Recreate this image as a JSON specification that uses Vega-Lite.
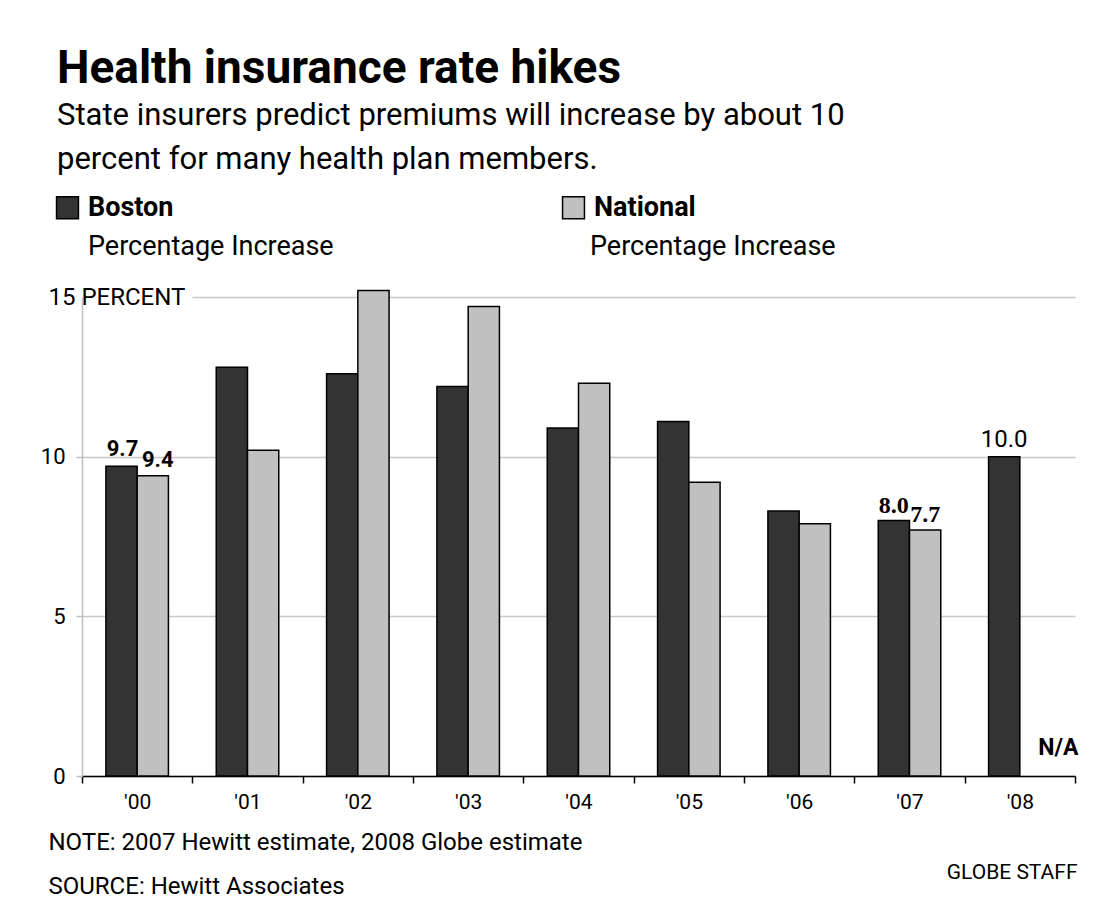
{
  "$schema": "https://vega.github.io/schema/vega-lite/v6.json",
  "width": 993,
  "height": 479,
  "autosize": {"type": "none"},
  "padding": {"left": 82, "top": 297, "right": 32, "bottom": 144},
  "background": "white",
  "title": {
    "text": "Health insurance rate hikes",
    "subtitle": ["State insurers predict premiums will increase by about 10", "percent for many health plan members."],
    "anchor": "start",
    "frame": "group",
    "dx": -25,
    "offset": 18,
    "fontSize": 46,
    "fontWeight": "bold",
    "color": "black",
    "subtitleFontSize": 31,
    "subtitleColor": "black",
    "subtitleLineHeight": 44,
    "subtitlePadding": 8,
    "font": "Roboto, Liberation Sans, sans-serif",
    "subtitleFont": "Roboto, Liberation Sans, sans-serif"
  },
  "data": {
    "values": [
      {"year": "'00", "series": "Boston", "value": 9.7},
      {"year": "'00", "series": "National", "value": 9.4},
      {"year": "'01", "series": "Boston", "value": 12.8},
      {"year": "'01", "series": "National", "value": 10.2},
      {"year": "'02", "series": "Boston", "value": 12.6},
      {"year": "'02", "series": "National", "value": 15.2},
      {"year": "'03", "series": "Boston", "value": 12.2},
      {"year": "'03", "series": "National", "value": 14.7},
      {"year": "'04", "series": "Boston", "value": 10.9},
      {"year": "'04", "series": "National", "value": 12.3},
      {"year": "'05", "series": "Boston", "value": 11.1},
      {"year": "'05", "series": "National", "value": 9.2},
      {"year": "'06", "series": "Boston", "value": 8.3},
      {"year": "'06", "series": "National", "value": 7.9},
      {"year": "'07", "series": "Boston", "value": 8.0},
      {"year": "'07", "series": "National", "value": 7.7},
      {"year": "'08", "series": "Boston", "value": 10.0},
      {"year": "'08", "series": "National", "value": null}
    ]
  },
  "encoding": {
    "x": {
      "field": "year",
      "type": "nominal",
      "sort": null,
      "scale": {"paddingInner": 0, "paddingOuter": 0},
      "axis": {
        "title": ["NOTE: 2007 Hewitt estimate, 2008 Globe estimate", "SOURCE: Hewitt Associates"],
        "titleX": -34,
        "titleY": 54,
        "titleAlign": "left",
        "titleAnchor": "start",
        "titleBaseline": "top",
        "titleLineHeight": 44,
        "titleFontSize": 24,
        "titleFontWeight": "normal",
        "titleColor": "black",
        "labelAngle": 0,
        "labelFontSize": 21,
        "labelColor": "black",
        "labelPadding": 8,
        "tickBand": "extent",
        "tickSize": 7,
        "tickColor": "black",
        "tickWidth": 1.5,
        "domainColor": "black",
        "domainWidth": 1.5,
        "grid": false
      }
    },
    "xOffset": {
      "field": "series",
      "type": "nominal",
      "scale": {"domain": ["Boston", "National"], "paddingInner": 0, "paddingOuter": 0.765}
    }
  },
  "layer": [
    {
      "mark": {"type": "bar", "stroke": "black", "strokeWidth": 1.5},
      "encoding": {
        "y": {
          "field": "value",
          "type": "quantitative",
          "scale": {"domain": [0, 15], "nice": false},
          "axis": {
            "values": [0, 5, 10, 15],
            "labelExpr": "datum.value === 15 ? '15 PERCENT' : datum.label",
            "labelAlign": {"condition": {"test": "datum.value === 15", "value": "left"}, "value": "right"},
            "labelPadding": {"expr": "datum.value === 15 ? 28 : 11"},
            "labelFontSize": {"condition": {"test": "datum.value === 15", "value": 24}, "value": 22},
            "labelBaseline": "middle",
            "labelColor": "black",
            "tickSize": 6,
            "tickColor": "#c0c0c0",
            "tickWidth": 1.5,
            "tickOpacity": {"condition": {"test": "datum.value === 15", "value": 0}, "value": 1},
            "domainColor": "#c0c0c0",
            "domainWidth": 1.5,
            "grid": true,
            "gridColor": "#c8c8c8",
            "gridWidth": 1.5,
            "gridDash": {"condition": {"test": "datum.value === 15", "value": [0, 110, 2000]}, "value": []},
            "title": "GLOBE STAFF",
            "titleAngle": 0,
            "titleX": 995,
            "titleY": 575,
            "titleAlign": "right",
            "titleBaseline": "middle",
            "titleFontSize": 21,
            "titleFontWeight": "normal",
            "titleColor": "black"
          }
        },
        "fill": {
          "field": "series",
          "type": "nominal",
          "scale": {"domain": ["Boston", "National"], "range": ["#333333", "#c0c0c0"]},
          "legend": {
            "orient": "none",
            "legendX": -28,
            "legendY": -103,
            "direction": "horizontal",
            "title": null,
            "symbolType": "square",
            "symbolSize": 480,
            "symbolStrokeColor": "black",
            "symbolStrokeWidth": 1.5,
            "symbolOpacity": 1,
            "labelFontSize": 27,
            "labelFontWeight": "bold",
            "labelColor": "black",
            "labelOffset": 7,
            "columnPadding": 385,
            "labelLimit": 400
          }
        },
        "opacity": {
          "field": "series",
          "type": "ordinal",
          "scale": {"domain": ["National", "Boston"], "range": [1, 1]},
          "legend": {
            "orient": "none",
            "legendX": -27,
            "legendY": -64,
            "direction": "horizontal",
            "title": null,
            "symbolSize": 0,
            "symbolOpacity": 0,
            "symbolStrokeWidth": 0,
            "labelExpr": "'Percentage Increase'",
            "labelFontSize": 27,
            "labelFontWeight": "normal",
            "labelColor": "black",
            "labelOffset": 6,
            "columnPadding": 223,
            "labelLimit": 400
          }
        }
      }
    },
    {
      "transform": [{"filter": {"and": [{"field": "year", "equal": "'00"}, {"field": "series", "equal": "Boston"}]}}],
      "mark": {"type": "text", "fontSize": 22, "fontWeight": "bold", "baseline": "alphabetic", "dy": -10, "dx": 1, "color": "black"},
      "encoding": {
        "y": {"field": "value", "type": "quantitative"},
        "text": {"field": "value", "type": "quantitative", "format": ".1f"}
      }
    },
    {
      "transform": [{"filter": {"and": [{"field": "year", "equal": "'00"}, {"field": "series", "equal": "National"}]}}],
      "mark": {"type": "text", "fontSize": 22, "fontWeight": "bold", "baseline": "alphabetic", "dy": -9, "dx": 5, "color": "black"},
      "encoding": {
        "y": {"field": "value", "type": "quantitative"},
        "text": {"field": "value", "type": "quantitative", "format": ".1f"}
      }
    },
    {
      "transform": [{"filter": {"field": "year", "equal": "'07"}}],
      "mark": {"type": "text", "font": "Liberation Serif, DejaVu Serif, serif", "fontSize": 24, "fontWeight": "bold", "baseline": "alphabetic", "dy": -8, "color": "black"},
      "encoding": {
        "y": {"field": "value", "type": "quantitative"},
        "text": {"field": "value", "type": "quantitative", "format": ".1f"}
      }
    },
    {
      "transform": [{"filter": {"and": [{"field": "year", "equal": "'08"}, {"field": "series", "equal": "Boston"}]}}],
      "mark": {"type": "text", "fontSize": 24, "fontWeight": "normal", "baseline": "alphabetic", "dy": -10, "color": "black"},
      "encoding": {
        "y": {"field": "value", "type": "quantitative"},
        "text": {"field": "value", "type": "quantitative", "format": ".1f"}
      }
    },
    {
      "transform": [{"filter": {"and": [{"field": "year", "equal": "'08"}, {"field": "series", "equal": "National"}]}}],
      "mark": {"type": "text", "fontSize": 23, "fontWeight": "bold", "baseline": "alphabetic", "dy": -21, "dx": 23, "color": "black"},
      "encoding": {
        "y": {"datum": 0, "type": "quantitative"},
        "text": {"value": "N/A"}
      }
    }
  ],
  "config": {
    "view": {"stroke": null},
    "font": "Roboto, Liberation Sans, sans-serif"
  }
}
